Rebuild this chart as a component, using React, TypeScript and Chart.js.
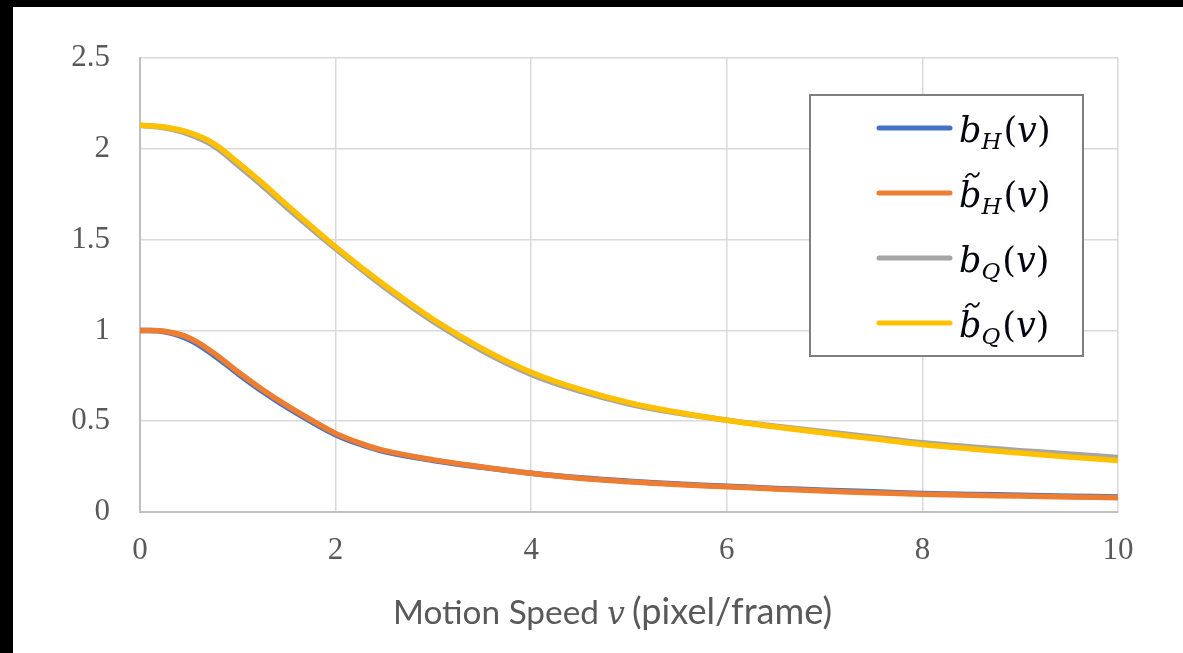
import React, { useEffect, useRef } from "react";
import { Chart, registerables } from "chart.js";

Chart.register(...registerables);

// ---- data ----
const speeds = [0, 0.25, 0.5, 0.75, 1, 1.25, 1.5, 1.75, 2, 2.25, 2.5, 3, 3.5, 4, 4.5, 5, 5.5, 6, 6.5, 7, 7.5, 8, 8.5, 9, 9.5, 10];
const bH = [1.0, 0.993, 0.95, 0.865, 0.762, 0.665, 0.577, 0.498, 0.426, 0.373, 0.333, 0.284, 0.246, 0.213, 0.188, 0.169, 0.154, 0.142, 0.13, 0.12, 0.111, 0.102, 0.097, 0.092, 0.087, 0.083];
const bHTilde = [1.0, 0.995, 0.96, 0.877, 0.772, 0.675, 0.587, 0.507, 0.433, 0.379, 0.338, 0.287, 0.248, 0.213, 0.186, 0.167, 0.151, 0.139, 0.127, 0.116, 0.106, 0.098, 0.092, 0.088, 0.083, 0.079];
const bQ = [2.13, 2.115, 2.08, 2.017, 1.91, 1.797, 1.677, 1.562, 1.45, 1.342, 1.238, 1.048, 0.888, 0.758, 0.665, 0.595, 0.545, 0.506, 0.472, 0.442, 0.412, 0.381, 0.358, 0.338, 0.319, 0.3];
const bQTilde = [2.13, 2.12, 2.09, 2.03, 1.925, 1.812, 1.692, 1.575, 1.46, 1.353, 1.25, 1.06, 0.9, 0.77, 0.675, 0.602, 0.549, 0.505, 0.468, 0.435, 0.403, 0.372, 0.347, 0.325, 0.303, 0.283];
const xTicks = [0, 2, 4, 6, 8, 10];
const yTicks = [0, 0.5, 1, 1.5, 2, 2.5];
const seriesLabels = ["b_H(v)", "b̃_H(v)", "b_Q(v)", "b̃_Q(v)"];
const seriesSubs = ["H", "H", "Q", "Q"];
const seriesTilde = [false, true, false, true];
const seriesValues = [bH, bHTilde, bQ, bQTilde];
const axisTitleA = "Motion Speed";
const axisTitleVar = "v";
const axisTitleB = "(pixel/frame)";

// ---- styles ----
const colors = ["#4472C4", "#ED7D31", "#A5A5A5", "#FFC000"];
const drawOrder = [4, 3, 2, 1];
const TICK_FONT = "Liberation Serif";
const TEXT_GRAY = "#595959";

const overlayPlugin = {
  id: "overlayText",
  afterDraw(chart: any) {
    const ctx: CanvasRenderingContext2D = chart.ctx;
    ctx.save();
    // ---- x axis title ----
    ctx.fillStyle = TEXT_GRAY;
    ctx.textBaseline = "alphabetic";
    ctx.textAlign = "left";
    ctx.font = "36px Lato";
    const w36 = ctx.measureText(axisTitleA).width;
    const size = (36 * 206) / w36;
    ctx.font = `${size}px Lato`;
    const base = 617;
    ctx.fillText(axisTitleA, 380, base);
    ctx.font = `italic ${size * 0.95}px "DejaVu Serif"`;
    ctx.fillText(axisTitleVar, 594, base);
    ctx.font = `${size}px Lato`;
    const wB = ctx.measureText(axisTitleB).width;
    const sizeB = (size * 200) / wB;
    ctx.font = `${sizeB}px Lato`;
    ctx.fillText(axisTitleB, 619, base);

    // ---- legend ----
    const bx = 797, by = 88, bw = 273, bh = 261;
    ctx.fillStyle = "#ffffff";
    ctx.fillRect(bx, by, bw, bh);
    ctx.strokeStyle = "#7f7f7f";
    ctx.lineWidth = 2;
    ctx.strokeRect(bx, by, bw, bh);
    const rows = [121, 186, 251, 316];
    chart.data.datasets.forEach((ds: any, i: number) => {
      const ry = rows[i];
      ctx.strokeStyle = ds.borderColor;
      ctx.lineWidth = 5;
      ctx.lineCap = "round";
      ctx.beginPath();
      ctx.moveTo(866, ry);
      ctx.lineTo(937, ry);
      ctx.stroke();
      const tb = ry + 14;
      let x = 946;
      ctx.fillStyle = "#05050f";
      ctx.font = 'italic 35px "DejaVu Serif"';
      ctx.fillText("b", x, tb);
      const bw2 = ctx.measureText("b").width;
      if (seriesTilde[i]) {
        ctx.strokeStyle = "#05050f";
        ctx.lineWidth = 1.8;
        ctx.lineCap = "round";
        const tx = x + 7, ty = ry - 18;
        ctx.beginPath();
        ctx.moveTo(tx, ty + 2);
        ctx.bezierCurveTo(tx + 3, ty - 3, tx + 6, ty - 1, tx + 7, ty + 0.5);
        ctx.bezierCurveTo(tx + 8, ty + 2, tx + 11, ty + 3, tx + 13, ty - 2);
        ctx.stroke();
      }
      x += bw2;
      ctx.font = 'italic 23px "DejaVu Serif"';
      ctx.fillText(seriesSubs[i], x, tb + 7);
      x += ctx.measureText(seriesSubs[i]).width + 2;
      ctx.font = '35px "DejaVu Serif"';
      ctx.fillText("(", x, tb);
      x += ctx.measureText("(").width;
      ctx.font = 'italic 35px "DejaVu Serif"';
      ctx.fillText("v", x, tb);
      x += ctx.measureText("v").width;
      ctx.font = '35px "DejaVu Serif"';
      ctx.fillText(")", x, tb);
    });
    ctx.restore();
  },
};

export default function App() {
  const ref = useRef<HTMLCanvasElement>(null);
  useEffect(() => {
    if (!ref.current) return;
    const chart = new Chart(ref.current, {
      type: "line",
      data: {
        datasets: seriesValues.map((vals, i) => ({
          label: seriesLabels[i],
          data: speeds.map((v, k) => ({ x: v, y: vals[k] })),
          borderColor: colors[i],
          backgroundColor: colors[i],
          borderWidth: 5.5,
          pointRadius: 0,
          tension: 0.4,
          order: drawOrder[i],
          fill: false,
        })),
      },
      options: {
        responsive: false,
        animation: false,
        layout: { padding: { left: 0, right: 65, top: 51, bottom: 0 } },
        plugins: { legend: { display: false }, tooltip: { enabled: false } },
        scales: {
          x: {
            type: "linear",
            min: 0,
            max: 10,
            afterBuildTicks: (s: any) => {
              s.ticks = xTicks.map((v) => ({ value: v }));
            },
            afterFit: (s: any) => {
              s.height = 141;
            },
            ticks: {
              font: { family: TICK_FONT, size: 31 },
              color: TEXT_GRAY,
              padding: 20,
              maxRotation: 0,
              callback: (v: any) => String(v),
            },
            grid: { color: "#d9d9d9", lineWidth: 1.5, drawTicks: false },
            border: { color: "#bfbfbf", width: 2 },
          },
          y: {
            type: "linear",
            min: 0,
            max: 2.5,
            afterBuildTicks: (s: any) => {
              s.ticks = yTicks.map((v) => ({ value: v }));
            },
            afterFit: (s: any) => {
              s.width = 127;
            },
            ticks: {
              font: { family: TICK_FONT, size: 31 },
              color: TEXT_GRAY,
              padding: 30,
              callback: (v: any) => String(v),
            },
            grid: { color: "#d9d9d9", lineWidth: 1.5, drawTicks: false },
            border: { color: "#bfbfbf", width: 2 },
          },
        },
      },
      plugins: [overlayPlugin],
    });
    return () => chart.destroy();
  }, []);
  return (
    <div style={{ position: "fixed", inset: 0, background: "#000" }}>
      <div
        style={{
          position: "absolute",
          left: 13,
          top: 7,
          width: 1170,
          height: 646,
          background: "#fff",
        }}
      >
        <canvas ref={ref} width={1170} height={646} style={{ display: "block" }} />
      </div>
    </div>
  );
}
